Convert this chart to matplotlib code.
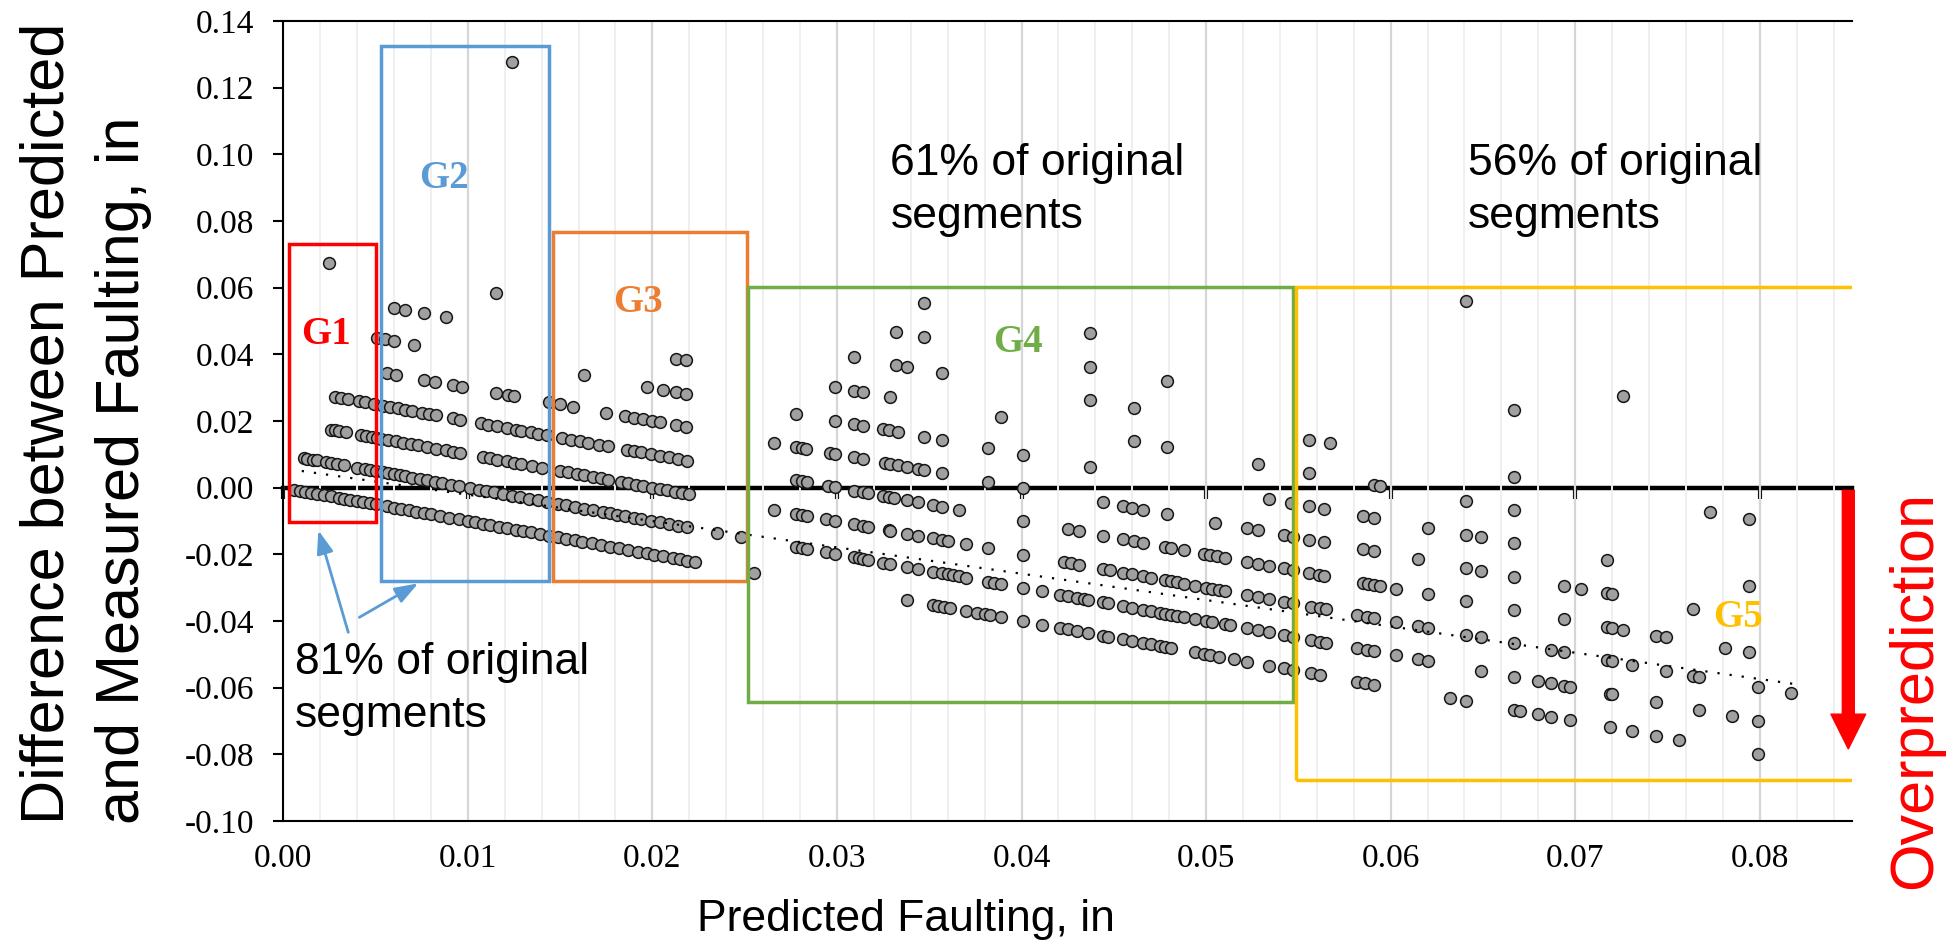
import numpy as np
import matplotlib
matplotlib.use("Agg")
import matplotlib.pyplot as plt
from matplotlib.patches import Rectangle, FancyArrowPatch
from matplotlib.ticker import MultipleLocator, FuncFormatter

plt.rcParams['font.family'] = ['Liberation Sans', 'DejaVu Sans']
plt.rcParams['axes.unicode_minus'] = False

# predicted faulting (in) of each segment, grouped by its measured faulting
pred_m000 = [0.0006, 0.0009, 0.0012, 0.0015, 0.0018, 0.0022, 0.0026, 0.0030, 0.0033, 0.0036,
             0.0040, 0.0043, 0.0047, 0.0050, 0.0056, 0.0060, 0.0064, 0.0068, 0.0072, 0.0076,
             0.0080, 0.0085, 0.0090, 0.0095, 0.0100, 0.0104, 0.0108, 0.0112, 0.0117, 0.0121,
             0.0126, 0.0130, 0.0134, 0.0139, 0.0144, 0.0149, 0.0153, 0.0158, 0.0162, 0.0167,
             0.0172, 0.0177, 0.0182, 0.0187, 0.0192, 0.0197, 0.0201, 0.0206, 0.0211, 0.0215,
             0.0219, 0.0223, 0.0255,
             0.0338, 0.0352, 0.0355, 0.0358, 0.0361, 0.0370, 0.0376, 0.0380, 0.0383, 0.0389,
             0.0401, 0.0411, 0.0421, 0.0425, 0.0430, 0.0436, 0.0444, 0.0447, 0.0455, 0.0460,
             0.0466, 0.0470, 0.0475, 0.0478, 0.0481, 0.0494, 0.0499, 0.0502, 0.0507, 0.0515,
             0.0522, 0.0534, 0.0542, 0.0547,
             0.0557, 0.0562, 0.0582, 0.0586, 0.0591, 0.0632, 0.0641, 0.0667, 0.0670, 0.0680,
             0.0687, 0.0697, 0.0719, 0.0731, 0.0744, 0.0756, 0.0799]
pred_m001 = [0.0011, 0.0013, 0.0016, 0.0018, 0.0023, 0.0026, 0.0029, 0.0033, 0.0040, 0.0044,
             0.0047, 0.0050, 0.0054, 0.0057, 0.0060, 0.0063, 0.0066, 0.0070, 0.0074, 0.0078,
             0.0082, 0.0086, 0.0091, 0.0095, 0.0101, 0.0106, 0.0110, 0.0114, 0.0119, 0.0124,
             0.0128, 0.0133, 0.0138, 0.0143, 0.0149, 0.0153, 0.0158, 0.0163, 0.0168, 0.0173,
             0.0177, 0.0181, 0.0185, 0.0190, 0.0194, 0.0199, 0.0204, 0.0209, 0.0214, 0.0219,
             0.0235, 0.0248,
             0.0278, 0.0281, 0.0284, 0.0294, 0.0299, 0.0309, 0.0312, 0.0314, 0.0317, 0.0325,
             0.0329, 0.0338, 0.0344, 0.0352, 0.0357, 0.0360, 0.0363, 0.0366, 0.0370, 0.0382,
             0.0385, 0.0389, 0.0401, 0.0411, 0.0421, 0.0425, 0.0430, 0.0434, 0.0436, 0.0444,
             0.0447, 0.0455, 0.0460, 0.0466, 0.0470, 0.0475, 0.0478, 0.0481, 0.0484, 0.0488,
             0.0494, 0.0500, 0.0503, 0.0510, 0.0513, 0.0522, 0.0528, 0.0534, 0.0542, 0.0547,
             0.0557, 0.0562, 0.0565, 0.0582, 0.0587, 0.0591, 0.0603, 0.0615, 0.0620, 0.0649,
             0.0667, 0.0680, 0.0687, 0.0694, 0.0697, 0.0719, 0.0720, 0.0744, 0.0767, 0.0785,
             0.0799]
pred_m002 = [0.0026, 0.0028, 0.0030, 0.0034, 0.0042, 0.0045, 0.0048, 0.0051, 0.0053, 0.0057,
             0.0061, 0.0065, 0.0069, 0.0073, 0.0078, 0.0083, 0.0088, 0.0092, 0.0096, 0.0108,
             0.0112, 0.0116, 0.0121, 0.0125, 0.0129, 0.0135, 0.0140, 0.0150, 0.0154, 0.0159,
             0.0163, 0.0168, 0.0172, 0.0176, 0.0183, 0.0187, 0.0191, 0.0195, 0.0200, 0.0204,
             0.0208, 0.0212, 0.0216, 0.0220,
             0.0266, 0.0278, 0.0281, 0.0284, 0.0294, 0.0299, 0.0309, 0.0314, 0.0317, 0.0328,
             0.0329, 0.0338, 0.0344, 0.0352, 0.0357, 0.0360, 0.0370, 0.0382, 0.0401, 0.0423,
             0.0427, 0.0431, 0.0444, 0.0448, 0.0455, 0.0460, 0.0466, 0.0470, 0.0478, 0.0481,
             0.0484, 0.0488, 0.0494, 0.0500, 0.0503, 0.0507, 0.0510, 0.0522, 0.0528, 0.0534,
             0.0542, 0.0547,
             0.0557, 0.0562, 0.0565, 0.0582, 0.0587, 0.0591, 0.0603, 0.0615, 0.0620, 0.0641,
             0.0649, 0.0667, 0.0687, 0.0694, 0.0717, 0.0720, 0.0731, 0.0749, 0.0764, 0.0767,
             0.0799, 0.0817]
pred_m003 = [0.0028, 0.0031, 0.0035, 0.0041, 0.0044, 0.0049, 0.0054, 0.0058, 0.0062, 0.0066,
             0.0070, 0.0075, 0.0079, 0.0083, 0.0092, 0.0096, 0.0107, 0.0111, 0.0116, 0.0121,
             0.0126, 0.0129, 0.0134, 0.0138, 0.0143, 0.0151, 0.0156, 0.0161, 0.0165, 0.0171,
             0.0176, 0.0186, 0.0190, 0.0194, 0.0199, 0.0204, 0.0209, 0.0214, 0.0219,
             0.0278, 0.0281, 0.0284, 0.0295, 0.0299, 0.0309, 0.0314, 0.0317, 0.0325, 0.0328,
             0.0331, 0.0338, 0.0344, 0.0352, 0.0357, 0.0366, 0.0401, 0.0425, 0.0431, 0.0444,
             0.0455, 0.0461, 0.0466, 0.0478, 0.0481, 0.0488, 0.0499, 0.0502, 0.0506, 0.0510,
             0.0522, 0.0528, 0.0534, 0.0542, 0.0547,
             0.0556, 0.0561, 0.0564, 0.0585, 0.0588, 0.0591, 0.0594, 0.0603, 0.0620, 0.0641,
             0.0667, 0.0694, 0.0717, 0.0720, 0.0726, 0.0744, 0.0749, 0.0781, 0.0794]
pred_m004 = [0.0056, 0.0061, 0.0076, 0.0082, 0.0092, 0.0097, 0.0115, 0.0122, 0.0125, 0.0144,
             0.0150, 0.0157, 0.0175, 0.0185, 0.0190, 0.0195, 0.0200, 0.0204, 0.0213, 0.0218,
             0.0266, 0.0278, 0.0281, 0.0283, 0.0296, 0.0299, 0.0309, 0.0314, 0.0326, 0.0329,
             0.0333, 0.0338, 0.0344, 0.0347, 0.0357, 0.0382, 0.0401, 0.0444, 0.0455, 0.0460,
             0.0466, 0.0479, 0.0505, 0.0522, 0.0528, 0.0542, 0.0547,
             0.0556, 0.0564, 0.0585, 0.0591, 0.0615, 0.0641, 0.0649, 0.0667, 0.0694, 0.0703,
             0.0717, 0.0720, 0.0764]
pred_m005 = [0.0051, 0.0055, 0.0060, 0.0071, 0.0163, 0.0197, 0.0206, 0.0213, 0.0218,
             0.0278, 0.0299, 0.0309, 0.0314, 0.0325, 0.0328, 0.0333, 0.0347, 0.0357, 0.0382,
             0.0401, 0.0437, 0.0534, 0.0546,
             0.0556, 0.0564, 0.0585, 0.0591, 0.0620, 0.0641, 0.0649, 0.0667, 0.0717, 0.0794]
pred_m006 = [0.0060, 0.0066, 0.0076, 0.0088, 0.0213, 0.0218,
             0.0299, 0.0309, 0.0314, 0.0329, 0.0389, 0.0461, 0.0479, 0.0528,
             0.0556, 0.0591, 0.0594, 0.0641, 0.0667]
pred_m007 = [0.0025, 0.0115, 0.0309, 0.0332, 0.0338, 0.0357, 0.0437, 0.0461,
             0.0556, 0.0567, 0.0667, 0.0773, 0.0794]
pred_m008 = [0.0332, 0.0347, 0.0437, 0.0479]
pred_m009 = [0.0347, 0.0437, 0.0667]
pred_m010 = [0.0726]
pred_m012 = [0.0641]
pred_m014 = [0.0124]

# linear trend of the difference
trend_x = [0.001, 0.082]
trend_y = [0.005, -0.059]

# grouping boxes: name, x range, y range, colour
group_names = ['G1', 'G2', 'G3', 'G4', 'G5']
group_x = [(0.0003, 0.0050), (0.0053, 0.0144), (0.0146, 0.0251), (0.0252, 0.0547), (0.0549, 0.0950)]
group_y = [(-0.0103, 0.0730), (-0.0281, 0.1326), (-0.0281, 0.0766), (-0.0644, 0.0602), (-0.0876, 0.0602)]
group_colors = ['#FF0000', '#5B9BD5', '#ED7D31', '#70AD47', '#FFC000']
group_label_pos = [(0.0023, 0.046), (0.0087, 0.0926), (0.0192, 0.0556), (0.0398, 0.0437), (0.0788, -0.0389)]

groups = [(0.00, pred_m000), (0.01, pred_m001), (0.02, pred_m002), (0.03, pred_m003),
          (0.04, pred_m004), (0.05, pred_m005), (0.06, pred_m006), (0.07, pred_m007),
          (0.08, pred_m008), (0.09, pred_m009), (0.10, pred_m010), (0.12, pred_m012),
          (0.14, pred_m014)]

W, H = 1947, 944
fig = plt.figure(figsize=(W / 100, H / 100), dpi=100)
ax = fig.add_axes([283.3 / W, 1 - 821 / H, (1852 - 283.3) / W, (821 - 21) / H])

ymin, ymax = -0.10, 0.14
ax.set_xlim(0, 0.085)
ax.set_ylim(ymin, ymax)

two_dec = FuncFormatter(lambda v, p: '%.2f' % (round(v, 4) + 0.0))

# vertical grid
ax.xaxis.set_major_locator(MultipleLocator(0.01))
ax.xaxis.set_minor_locator(MultipleLocator(0.002))
ax.yaxis.set_major_locator(MultipleLocator(0.02))
ax.xaxis.set_major_formatter(two_dec)
ax.yaxis.set_major_formatter(two_dec)
ax.grid(which='major', axis='x', color='#d6d6d6', lw=1.6, zorder=0)
ax.grid(which='minor', axis='x', color='#efefef', lw=1.4, zorder=0)
ax.set_axisbelow(True)

ax.tick_params(axis='x', which='both', length=0, pad=16, labelsize=24)
ax.tick_params(axis='y', which='major', direction='out', length=7, width=1.5, pad=14, labelsize=24)
for lab in ax.get_xticklabels() + ax.get_yticklabels():
    lab.set_fontfamily('Liberation Serif')

ax.spines['right'].set_visible(False)
for s in ['left', 'bottom', 'top']:
    ax.spines[s].set_linewidth(1.5)
    ax.spines[s].set_color('black')

# zero line with its own ticks
zero_loc = (0 - ymin) / (ymax - ymin)
zax = ax.secondary_xaxis(zero_loc)
zax.xaxis.set_major_locator(MultipleLocator(0.01))
zax.tick_params(axis='x', direction='out', length=8, width=3, labelbottom=False)
zax.spines['bottom'].set_linewidth(3.2)

# points
for meas, pred in groups:
    pred = np.array(pred)
    ax.scatter(pred, meas - pred, s=72, facecolor='#a0a0a0', edgecolor='#161616',
               linewidth=1.1, zorder=3)

ax.plot(trend_x, trend_y, color='black', lw=1.6, linestyle=(0, (1, 4.5)), zorder=4)

# group boxes and labels
for name, gx, gy, col, pos in zip(group_names, group_x, group_y, group_colors, group_label_pos):
    ax.add_patch(Rectangle((gx[0], gy[0]), gx[1] - gx[0], gy[1] - gy[0], fill=False,
                           edgecolor=col, lw=2.5, zorder=5))
    ax.text(pos[0], pos[1], name, color=col, fontsize=28, fontweight='bold',
            family='Liberation Serif', ha='center', va='center', zorder=6)

# share annotations
ax.text(0.00063, -0.0462, "81% of original\nsegments", fontsize=32, ha='left', va='top',
        linespacing=1.4, zorder=6)
ax.text(0.0329, 0.1035, "61% of original\nsegments", fontsize=32, ha='left', va='top',
        linespacing=1.4, zorder=6)
ax.text(0.0642, 0.1035, "56% of original\nsegments", fontsize=32, ha='left', va='top',
        linespacing=1.4, zorder=6)

blue = '#5B9BD5'
ax.annotate('', xy=(0.0019, -0.0128), xytext=(0.00352, -0.0434),
            arrowprops=dict(arrowstyle='-|>,head_length=0.7,head_width=0.25', color=blue,
                            lw=2, mutation_scale=20, shrinkA=0, shrinkB=0), zorder=6)
ax.annotate('', xy=(0.00731, -0.0287), xytext=(0.00412, -0.0389),
            arrowprops=dict(arrowstyle='-|>,head_length=0.7,head_width=0.25', color=blue,
                            lw=2, mutation_scale=20, shrinkA=0, shrinkB=0), zorder=6)

# overprediction arrow
red_arrow = FancyArrowPatch((0.0848, 0.0), (0.0848, -0.0792),
                            arrowstyle='simple,head_length=2.5,head_width=2.5,tail_width=0.86',
                            mutation_scale=10, color='#FF0000', clip_on=False, zorder=7)
ax.add_patch(red_arrow)

fig.text(20 / W, 1 - 423 / H, "Difference between Predicted\nand Measured Faulting, in",
         rotation=90, ha='left', va='center', fontsize=44, linespacing=1.4)
fig.text(905.5 / W, 1 - 899 / H, "Predicted Faulting, in", ha='center', va='top', fontsize=32)
fig.text(1944 / W, 1 - 491 / H, "Overprediction", rotation=90, ha='right', va='top',
         fontsize=44, color='#FF0000')

fig.savefig('out.png', dpi=100)
